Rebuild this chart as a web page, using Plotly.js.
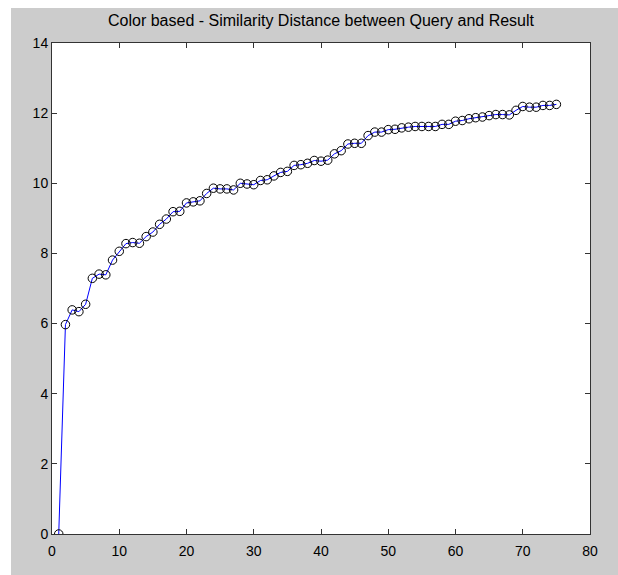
<!DOCTYPE html>
<html>
<head>
<meta charset="utf-8">
<script src="https://cdn.plot.ly/plotly-3.0.1.min.js"></script>
<style>
  html, body { margin: 0; padding: 0; background: #ffffff; width: 618px; height: 575px; overflow: hidden; }
  #chart { position: absolute; left: 11px; top: 8px; width: 607px; height: 567px; }
</style>
</head>
<body>
<div id="chart"></div>
<script>
const resultIndex = [1,2,3,4,5,6,7,8,9,10,11,12,13,14,15,16,17,18,19,20,21,22,23,24,25,26,27,28,29,30,31,32,33,34,35,36,37,38,39,40,41,42,43,44,45,46,47,48,49,50,51,52,53,54,55,56,57,58,59,60,61,62,63,64,65,66,67,68,69,70,71,72,73,74,75];
const distance = [0, 5.97, 6.39, 6.34, 6.55, 7.29, 7.41, 7.39, 7.81, 8.06,
  8.28, 8.31, 8.29, 8.48, 8.61, 8.83, 8.98, 9.19, 9.20, 9.44,
  9.47, 9.50, 9.71, 9.86, 9.84, 9.84, 9.81, 10.0, 9.98, 9.96,
  10.08, 10.10, 10.21, 10.31, 10.34, 10.51, 10.53, 10.57, 10.65, 10.63,
  10.66, 10.84, 10.93, 11.12, 11.14, 11.14, 11.36, 11.46, 11.46, 11.53,
  11.54, 11.58, 11.60, 11.62, 11.62, 11.62, 11.62, 11.68, 11.68, 11.77,
  11.79, 11.84, 11.87, 11.89, 11.93, 11.96, 11.96, 11.95, 12.08, 12.19,
  12.17, 12.17, 12.22, 12.22, 12.25];
const xTicks = [0,10,20,30,40,50,60,70,80];
const yTicks = [0,2,4,6,8,10,12,14];
const chartTitle = "Color based - Similarity Distance between Query and Result";

const font = { family: "Liberation Sans, Arial, sans-serif", size: 14, color: "#000000" };

const traces = [
  {
    x: resultIndex, y: distance, type: "scatter", mode: "lines",
    line: { color: "#0000ff", width: 1 }, hoverinfo: "skip"
  },
  {
    x: resultIndex, y: distance, type: "scatter", mode: "markers",
    marker: { symbol: "circle-open", size: 8.5, color: "#000000", line: { width: 1, color: "#000000" } }
  }
];

const axisCommon = {
  showgrid: false, zeroline: false, showline: true, linecolor: "#333333", linewidth: 1,
  mirror: "ticks", ticks: "inside", ticklen: 5, tickcolor: "#333333", tickwidth: 1,
  tickfont: font, tickmode: "array"
};

const layout = {
  width: 607, height: 567,
  margin: { l: 41, r: 28, t: 35, b: 41 },
  paper_bgcolor: "#cccccc", plot_bgcolor: "#ffffff",
  showlegend: false,
  font: font,
  title: { text: chartTitle, font: { family: "Liberation Sans, Arial, sans-serif", size: 16, color: "#000000" },
           x: 0.5, xref: "paper", y: 1 - 12/567, yref: "container", yanchor: "middle" },
  xaxis: Object.assign({}, axisCommon, { range: [0, 80], tickvals: xTicks, ticktext: xTicks.map(String), ticklabelstandoff: 4 }),
  yaxis: Object.assign({}, axisCommon, { range: [0, 14], tickvals: yTicks, ticktext: yTicks.map(String) })
};

Plotly.newPlot("chart", traces, layout, { displayModeBar: false, staticPlot: true });
</script>
</body>
</html>
